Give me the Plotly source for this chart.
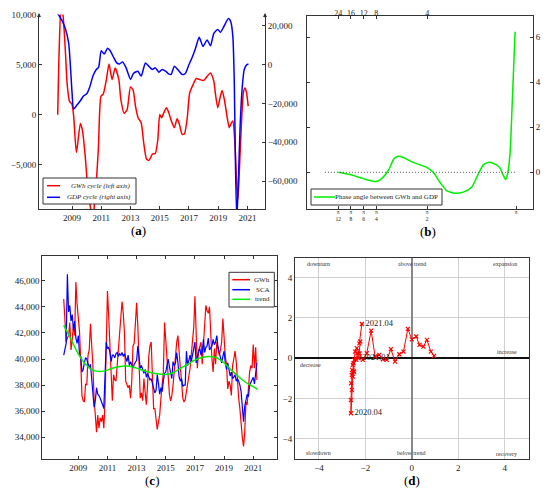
import plotly.graph_objects as go
import numpy as np

# ---- panel (a): cycles ----
a_gwh_year = [2008.02, 2008.09, 2008.25, 2008.38, 2008.54, 2008.66, 2008.82, 2009.0, 2009.11, 2009.3,
              2009.57, 2009.7, 2009.9, 2010.06, 2010.24, 2010.4, 2010.57, 2010.8, 2010.98, 2011.14,
              2011.35, 2011.53, 2011.74, 2011.95, 2012.2, 2012.34, 2012.57, 2012.77, 2013.0, 2013.18,
              2013.34, 2013.52, 2013.73, 2013.9, 2014.1, 2014.27, 2014.49, 2014.7, 2014.87, 2015.0,
              2015.12, 2015.28, 2015.46, 2015.62, 2015.84, 2016.0, 2016.19, 2016.35, 2016.53, 2016.69,
              2016.87, 2017.05, 2017.28, 2017.5, 2017.74, 2018.0, 2018.24, 2018.47, 2018.7, 2018.8,
              2018.97, 2019.1, 2019.26, 2019.42, 2019.6, 2019.76, 2019.9, 2020.0, 2020.14, 2020.25,
              2020.35, 2020.44, 2020.58, 2020.72, 2020.83, 2020.94, 2021.05]
a_gwh = [0, 4830, 11000, 10000, 6490, 3180, 1360, 1030, -130, -3770,
         -860, -1460, -4100, -7090, -9070, -10500, -8410, -3440, 1850, 2090,
         3510, 5070, 3510, 4670, 3510, 1520, 130, 530, 2780, 2450,
         860, -300, -800, -2780, -4440, -4540, -3940, -3840, -2450, 30,
         -300, 200, 700, 200, -800, -1290, -400, -960, -1950, -1890,
         -460, 2190, 3010, 3610, 3510, 3410, 3840, 4170, 3340, 2190,
         700, 1520, 2420, 1520, -130, -1290, -800, -630, -2780, -6420,
         -8400, -5760, -1130, 2190, 2680, 2190, 860]

a_gdp_year = [2008.02, 2008.3, 2008.54, 2008.77, 2008.89, 2009.0, 2009.11, 2009.34, 2009.57, 2009.8,
              2010.02, 2010.2, 2010.43, 2010.66, 2010.82, 2011.0, 2011.2, 2011.43, 2011.6, 2011.83,
              2012.06, 2012.24, 2012.46, 2012.7, 2013.0, 2013.2, 2013.5, 2013.73, 2014.02, 2014.25,
              2014.48, 2014.7, 2014.94, 2015.16, 2015.4, 2015.6, 2015.78, 2016.0, 2016.23, 2016.53,
              2016.75, 2017.0, 2017.2, 2017.45, 2017.7, 2017.96, 2018.24, 2018.47, 2018.7, 2018.97,
              2019.15, 2019.38, 2019.7, 2019.86, 2020.0, 2020.1, 2020.18, 2020.27, 2020.37, 2020.5,
              2020.65, 2020.78, 2020.96, 2021.07]
a_gdp = [26270, 22880, 18640, 11020, -850, -14400, -22880, -20850, -18640, -16100,
         -14900, -11860, -5930, -2540, -1360, 7120, 5420, 8470, 7290, 3900,
         850, 340, 1360, -1690, -7630, -4580, -3390, -5930, 850, -850,
         -2540, -1690, -3900, -2540, -3390, -4750, -5080, -850, -2540, -5080,
         -4580, 0, 3390, 8470, 14070, 9320, 12710, 9660, 16100, 18130,
         16610, 19490, 23730, 22030, 14400, -9320, -51700, -80000, -61860, -31360,
         -11020, -2540, 0, 340]

# ---- panel (b): phase angle ----
freq_tick_pos = [0, 1, 2, 3, 7, 14]
freq_tick_text = ["π<br>12", "π<br>8", "π<br>6", "π<br>4", "π<br>2", "π"]
period_tick_text = ["24", "16", "12", "8", "4"]
phase_pos = [0, 0.92, 1.97, 2.97, 3.4, 3.94, 4.39, 4.72, 5.12, 5.9, 6.96, 7.48, 8.0, 8.53, 9.19,
             9.84, 10.5, 11.03, 11.42, 11.8, 12.2, 12.7, 12.94, 13.18, 13.33, 13.52, 13.7, 13.92]
phase_val = [0, -0.1, -0.28, -0.41, -0.29, 0.08, 0.6, 0.71, 0.66, 0.44, 0.22, 0, -0.44, -0.81, -0.93,
             -0.88, -0.66, -0.07, 0.33, 0.44, 0.4, 0.22, -0.07, -0.32, -0.07, 0.81, 3.16, 6.25]
zero_pos = [-1.05, 13.9]
zero_val = [0, 0]

# ---- panel (c): monthly GWh, SCA and trend, Jan 2008 - Apr 2021 ----
gwh = [44600, 43100, 41300, 41600, 41800, 42800, 40700, 41500, 42600, 41800, 45900, 44200,
       43000, 42100, 39800, 37200, 36800, 36700, 38100, 38000, 40300, 40700, 42700, 41300,
       39500, 37000, 35500, 34400, 35700, 34700, 35500, 35200, 35700, 34700, 36700, 41600,
       45200, 43300, 41500, 39000, 36800, 38800, 38400, 38300, 39600, 40600, 42300, 43400,
       44400, 43500, 42000, 38300, 38000, 37800, 38000, 37000, 38300, 41000, 41200, 43400,
       44300, 42500, 40200, 37000, 37400, 36800, 38500, 37600, 36500, 38000, 40200, 41000,
       41300, 38700, 36200, 36200, 35500, 34600, 35200, 35700, 37000, 37900, 39000, 42800,
       41200, 40000, 38800, 37300, 36800, 37200, 38000, 39200, 40500, 41300, 41800, 40300,
       39300, 38300, 37000, 36700, 36900, 37500, 38300, 38700, 39300, 40300, 41600, 42400,
       44800, 41600, 39300, 40600, 41100, 41300, 39600, 41300, 42900, 44100, 43700, 43500,
       44000, 41100, 40000, 39000, 40800, 39600, 41300, 40800, 40300, 40700, 41300, 43100,
       41300, 40200, 39600, 37700, 38300, 38000, 37200, 39500, 40000, 40600, 39800, 37800,
       37000, 36200, 34700, 34000, 33300, 34400, 36700, 36500, 37700, 39000, 39500, 39300,
       41100, 39300, 40900, 38400]
sca = [40300, 40800, 41200, 46500, 43600, 44100, 42900, 43400, 42200, 42900, 41600, 41200,
       41800, 40300, 40200, 39000, 39200, 39700, 40100, 40000, 39500, 39300, 39600, 38600,
       37300, 36300, 36800, 37800, 37300, 37200, 37000, 36800, 36500, 36200, 38300, 41300,
       40800, 40900, 40500, 39800, 40300, 40300, 40100, 40400, 40500, 40200, 40400, 40300,
       40500, 40200, 40400, 40000, 39800, 40300, 39500, 39800, 39600, 39300, 39600, 39800,
       39900, 41000, 39800, 39300, 39500, 39100, 38900, 39200, 38600, 38900, 38700, 38400,
       38500, 38100, 37800, 37400, 37600, 38800, 38100, 37300, 37800, 37500, 38300, 38900,
       39000, 39500, 40000, 39400, 39000, 38500, 39800, 39500, 39700, 40500, 39700, 38600,
       38300, 38500, 37900, 38000, 38000, 40600, 39500, 40000, 40300, 39800, 40300, 40800,
       41300, 39700, 40200, 40600, 40800, 40300, 40500, 41500, 40500, 40900, 41000, 41600,
       40700, 40900, 41000, 41500, 41100, 41300, 41800, 40900, 40500, 40300, 39700, 40200,
       40600, 39700, 39200, 39700, 39000, 38700, 39000, 38500, 38600, 38800, 38300, 38500,
       38300, 38000, 37500, 36500, 35200, 36400, 37000, 37300, 37100, 38000, 38200, 38400,
       38600, 38100, 38800, 39700]
month_year = 2008 + np.arange(len(gwh)) / 12
trend_year = [2008.0, 2008.5, 2009.0, 2009.5, 2010.0, 2010.5, 2011.0, 2011.5, 2012.0, 2012.5,
              2013.0, 2013.5, 2014.0, 2014.5, 2015.0, 2015.5, 2016.0, 2016.5, 2017.0, 2017.5,
              2018.0, 2018.5, 2019.0, 2019.5, 2020.0, 2020.5, 2021.0, 2021.3]
trend = [42600, 41500, 40400, 39600, 39150, 39050, 39150, 39350, 39450, 39450,
         39300, 39100, 38950, 38850, 38820, 38950, 39280, 39600, 39920, 40120,
         40200, 40100, 39700, 39150, 38640, 38200, 37880, 37670]

# ---- panel (d): business cycle clock ----
d_x = [0.96, 0.82, 0.65, 0.50, 0.33, 0.19, 0.0, -0.17, -0.36, -0.54, -0.72, -0.90, -1.08, -1.25,
       -1.40, -1.58, -1.75, -1.94, -2.11, -2.25, -2.37, -2.44, -2.48, -2.54, -2.51, -2.58, -2.57,
       -2.61, -2.62, -2.62, -2.58, -2.54, -2.48, -2.51, -2.39, -2.34, -2.29, -2.22, -2.26, -2.15]
d_y = [0.12, 0.33, 0.91, 0.58, 0.66, 1.08, 0.94, 1.46, 0.33, 0.20, -0.17, 0.45, -0.08, -0.05,
       0.17, 0.08, 1.37, 0.25, -0.08, 0.25, 0.50, 0.33, -0.08, -0.33, -0.66, -0.83, -0.58,
       -1.24, -2.07, -2.73, -1.57, -0.91, -0.66, -0.25, -0.08, 0.25, 0.0, 0.83, 0.74, 1.70]
d_label = [""] * len(d_x)
d_label[29] = "2020.04"
d_label[36] = "2021.01"
d_label[39] = "2021.04"
quad_text = ["downturn", "above trend", "expansion", "increase", "decrease", "slowdown", "below trend", "recovery"]

# page has an 8px body margin, so the figure is drawn 8px smaller and everything
# below is given in window pixels
OFF = 8
W, H = 550 - OFF, 492 - OFF
def fx(x):
    return (x - OFF) / W
def fy(y):
    return 1 - (y - OFF) / H
def px(x0, x1):
    return [fx(x0), fx(x1)]
def py(top, bottom):
    return [fy(bottom), fy(top)]

FONT = "Liberation Serif"
AX = dict(showline=True, linecolor="#333", linewidth=1, ticks="inside", ticklen=3, automargin=False,
          tickcolor="#333", showgrid=False, zeroline=False, tickfont=dict(size=9))

fig = go.Figure()

# (a)
fig.add_trace(go.Scatter(x=a_gwh_year, y=a_gwh, mode="lines", line=dict(color="red", width=1.5, shape="spline", smoothing=0.6),
                         name="GWh cycle (left axis)", xaxis="x", yaxis="y"))
fig.add_trace(go.Scatter(x=a_gdp_year, y=a_gdp, mode="lines", line=dict(color="blue", width=1.5, shape="spline", smoothing=0.6),
                         name="GDP cycle (right axis)", xaxis="x", yaxis="y2"))
# (b)
fig.add_trace(go.Scatter(x=zero_pos, y=zero_val, mode="lines", line=dict(color="#555", width=1, dash="1px,2px"),
                         xaxis="x3", yaxis="y3"))
fig.add_trace(go.Scatter(x=phase_pos, y=phase_val, mode="lines", line=dict(color="#00ee00", width=1.5, shape="spline", smoothing=0.6),
                         name="Phase angle between GWh and GDP", xaxis="x2", yaxis="y3"))
# (c)
fig.add_trace(go.Scatter(x=month_year, y=gwh, mode="lines", line=dict(color="red", width=1.2),
                         name="GWh", xaxis="x4", yaxis="y4"))
fig.add_trace(go.Scatter(x=month_year, y=sca, mode="lines", line=dict(color="blue", width=1.2),
                         name="SCA", xaxis="x4", yaxis="y4"))
fig.add_trace(go.Scatter(x=trend_year, y=trend, mode="lines", line=dict(color="#00ee00", width=1.5, shape="spline"),
                         name="trend", xaxis="x4", yaxis="y4"))
# (d)
fig.add_trace(go.Scatter(x=d_x, y=d_y, mode="lines+markers+text", text=d_label, textposition="middle right",
                         textfont=dict(size=8.5, color="#222"),
                         line=dict(color="red", width=1), marker=dict(symbol="x-thin", size=4, color="red",
                                                                      line=dict(color="red", width=1.2)),
                         xaxis="x5", yaxis="y5"))

a_dom_y = py(14.5, 209)
fig.update_layout(
    width=W, height=H, margin=dict(l=0, r=0, t=0, b=0, autoexpand=False),
    paper_bgcolor="white", plot_bgcolor="white", showlegend=False,
    font=dict(family=FONT, color="#222", size=9),
    xaxis=dict(AX, domain=px(39, 265), anchor="y", range=[2006.74, 2022.2],
               tickvals=[2009, 2011, 2013, 2015, 2017, 2019, 2021]),
    yaxis=dict(AX, domain=a_dom_y, anchor="x", range=[-9400, 10000],
               tickvals=[-5000, 0, 5000, 10000], tickformat=",d"),
    yaxis2=dict(AX, overlaying="y", side="right", anchor="x", range=[-74400, 25800],
                tickvals=[-60000, -40000, -20000, 0, 20000], tickformat=",d"),
    xaxis2=dict(AX, domain=px(307, 533), anchor="y3", range=[-2.46, 15.33], mirror=True,
                tickvals=freq_tick_pos, ticktext=freq_tick_text, tickfont=dict(size=5.5),
                ticklabelstandoff=-3),
    xaxis3=dict(AX, overlaying="x2", side="top", anchor="y3", range=[-2.46, 15.33],
                tickvals=freq_tick_pos[:5], ticktext=period_tick_text,
                tickfont=dict(size=8), ticklabelstandoff=-5),
    yaxis3=dict(AX, domain=py(15.5, 209), anchor="x2", side="right", range=[-1.63, 6.97], mirror="ticks",
                tickvals=[0, 2, 4, 6]),
    xaxis4=dict(AX, domain=px(42.3, 277.3), anchor="y4", range=[2006.53, 2022.65], mirror="ticks",
                tickvals=[2009, 2011, 2013, 2015, 2017, 2019, 2021]),
    yaxis4=dict(AX, domain=py(256, 459), anchor="x4", range=[32340, 47890], mirror="ticks",
                tickvals=[34000, 36000, 38000, 40000, 42000, 44000, 46000], tickformat=",d"),
    xaxis5=dict(AX, domain=px(295, 529.3), anchor="y5", range=[-5.03, 5.06], mirror=True, ticks="",
                tickvals=[-4, -2, 0, 2, 4], showgrid=True, gridcolor="#d0d0d0",
                zeroline=True, zerolinecolor="#888", zerolinewidth=2),
    yaxis5=dict(AX, domain=py(258.3, 459), anchor="x5", range=[-5, 4.96], mirror=True, ticks="",
                tickvals=[-4, -2, 0, 2, 4], showgrid=True, gridcolor="#d0d0d0",
                zeroline=True, zerolinecolor="#111", zerolinewidth=1.5),
)

# hand-drawn legend boxes (compact like the original)
def legend_box(x0, y0, x1, y1, entries, line_x0, line_x1, text_right):
    fig.add_shape(type="rect", xref="paper", yref="paper", x0=fx(x0), x1=fx(x1), y0=fy(y1), y1=fy(y0),
                  line=dict(color="#333", width=1), fillcolor="white", layer="above")
    for name, color, ey in entries:
        fig.add_shape(type="line", xref="paper", yref="paper", x0=fx(line_x0), x1=fx(line_x1),
                      y0=fy(ey), y1=fy(ey), line=dict(color=color, width=1.5), layer="above")
        fig.add_annotation(xref="paper", yref="paper", x=fx(text_right), y=fy(ey), text=name,
                           xanchor="right", yanchor="middle", showarrow=False, font=dict(size=7, color="#222"))

legend_box(43, 178, 136, 204, [("<i>GWh cycle (left axis)</i>", "red", 185.7),
                               ("<i>GDP cycle (right axis)</i>", "blue", 197.3)], 47, 60, 133)
legend_box(311, 189, 442, 205, [("Phase angle between GWh and GDP", "#00ee00", 197)], 314, 335, 440)
legend_box(229, 272.3, 274.3, 307, [("GWh", "red", 279.7), ("SCA", "blue", 289.7),
                                    ("trend", "#00ee00", 299.3)], 232.3, 250, 271.7)

# axis arrows on panel (a)
for xa in [39, 265]:
    fig.add_annotation(xref="paper", yref="paper", x=fx(xa), y=fy(13), ax=0, ay=6, text="",
                       showarrow=True, arrowhead=2, arrowsize=0.8, arrowwidth=1, arrowcolor="#333")

# sub-figure captions
for lab, cx, cy in [("a", 138, 230), ("b", 428, 231), ("c", 152, 480), ("d", 412, 480)]:
    fig.add_annotation(xref="paper", yref="paper", x=fx(cx), y=fy(cy), text="(<b>" + lab + "</b>)",
                       xanchor="center", yanchor="middle", showarrow=False, font=dict(size=13, color="black"))

# quadrant labels on panel (d)
quad_pos = [(-4.0, 4.7, "center"), (0, 4.7, "center"), (4.6, 4.7, "right"), (4.6, 0.3, "right"),
            (-4.9, -0.33, "left"), (-4.0, -4.7, "center"), (0, -4.7, "center"), (4.6, -4.75, "right")]
for t, (qx, qy, al) in zip(quad_text, quad_pos):
    fig.add_annotation(xref="x5", yref="y5", x=qx, y=qy, text=t, showarrow=False, xanchor=al,
                       yanchor="middle", font=dict(size=6, color="#333"))

fig.write_html("out.html")
